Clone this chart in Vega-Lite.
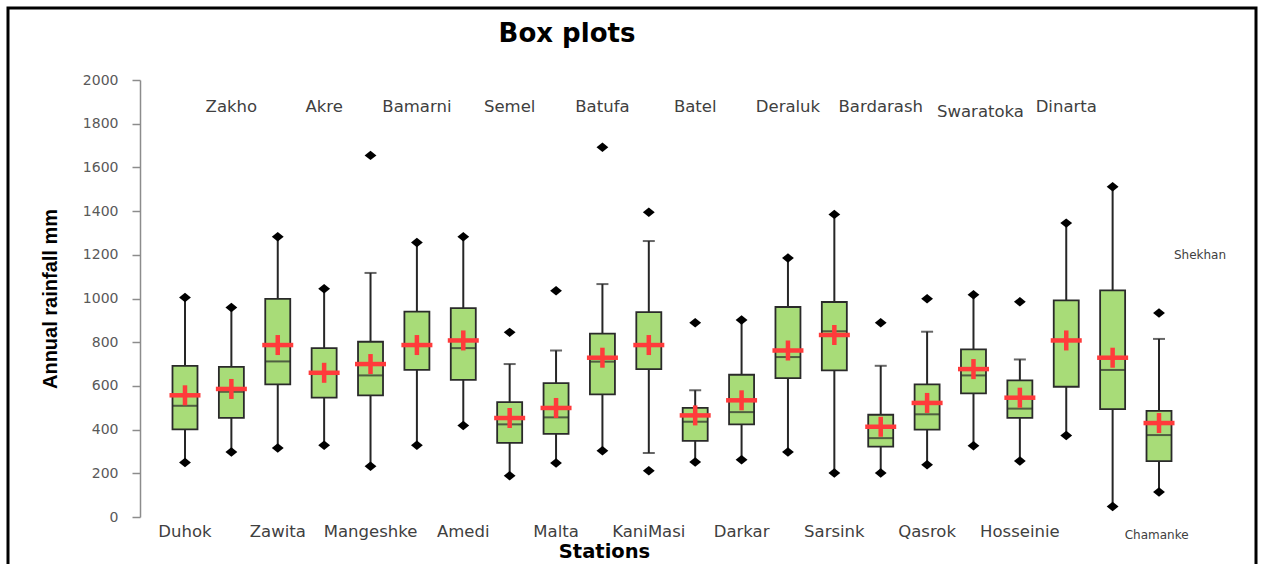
{
  "$schema": "https://vega.github.io/schema/vega-lite/v6.json",
  "width": 1248,
  "height": 560,
  "autosize": {"type": "none"},
  "padding": {"left": 8, "top": 8, "right": 8, "bottom": 0},
  "background": "white",
  "title": {"text": "Box plots", "anchor": "middle", "frame": "group", "offset": -52, "baseline": "middle", "dx": -65, "font": "DejaVu Sans", "fontSize": 26, "fontWeight": "bold", "color": "#000000"},
  "config": {"view": {"stroke": "#000000", "strokeWidth": 3}, "axis": {"grid": false}},
  "data": {"values": [
    {"station": "Duhok", "min": 249, "wlo": 249, "q1": 401, "median": 509, "mean": 557, "q3": 692, "whi": 1005, "max": 1005},
    {"station": "Zakho", "min": 297, "wlo": 297, "q1": 454, "median": 573, "mean": 586, "q3": 687, "whi": 959, "max": 959},
    {"station": "Zawita", "min": 316, "wlo": 316, "q1": 607, "median": 712, "mean": 787, "q3": 998, "whi": 1283, "max": 1283},
    {"station": "Akre", "min": 328, "wlo": 328, "q1": 546, "median": 660, "mean": 660, "q3": 773, "whi": 1045, "max": 1045},
    {"station": "Mangeshke", "min": 232, "wlo": 232, "q1": 557, "median": 648, "mean": 700, "q3": 802, "whi": 1117, "max": 1655},
    {"station": "Bamarni", "min": 328, "wlo": 328, "q1": 673, "median": 787, "mean": 787, "q3": 940, "whi": 1256, "max": 1256},
    {"station": "Amedi", "min": 419, "wlo": 419, "q1": 628, "median": 773, "mean": 808, "q3": 956, "whi": 1283, "max": 1283},
    {"station": "Semel", "min": 189, "wlo": 189, "q1": 339, "median": 424, "mean": 453, "q3": 526, "whi": 700, "max": 845},
    {"station": "Malta", "min": 247, "wlo": 247, "q1": 380, "median": 456, "mean": 499, "q3": 613, "whi": 762, "max": 1035},
    {"station": "Batufa", "min": 303, "wlo": 303, "q1": 561, "median": 711, "mean": 729, "q3": 839, "whi": 1066, "max": 1692},
    {"station": "KaniMasi", "min": 212, "wlo": 293, "q1": 677, "median": 787, "mean": 787, "q3": 938, "whi": 1263, "max": 1395},
    {"station": "Batel", "min": 252, "wlo": 252, "q1": 348, "median": 436, "mean": 465, "q3": 499, "whi": 580, "max": 889},
    {"station": "Darkar", "min": 262, "wlo": 262, "q1": 424, "median": 480, "mean": 534, "q3": 651, "whi": 902, "max": 902},
    {"station": "Deraluk", "min": 297, "wlo": 297, "q1": 636, "median": 732, "mean": 762, "q3": 961, "whi": 1185, "max": 1185},
    {"station": "Sarsink", "min": 201, "wlo": 201, "q1": 671, "median": 850, "mean": 833, "q3": 984, "whi": 1385, "max": 1385},
    {"station": "Bardarash", "min": 201, "wlo": 201, "q1": 322, "median": 361, "mean": 413, "q3": 468, "whi": 692, "max": 889},
    {"station": "Qasrok", "min": 239, "wlo": 239, "q1": 400, "median": 470, "mean": 522, "q3": 607, "whi": 848, "max": 999},
    {"station": "Swaratoka", "min": 326, "wlo": 326, "q1": 566, "median": 648, "mean": 677, "q3": 767, "whi": 1017, "max": 1017},
    {"station": "Hosseinie", "min": 256, "wlo": 256, "q1": 454, "median": 496, "mean": 546, "q3": 625, "whi": 721, "max": 985},
    {"station": "Dinarta", "min": 373, "wlo": 373, "q1": 596, "median": 808, "mean": 808, "q3": 991, "whi": 1345, "max": 1345},
    {"station": "Chamanke", "min": 48, "wlo": 48, "q1": 494, "median": 673, "mean": 729, "q3": 1037, "whi": 1511, "max": 1511},
    {"station": "Shekhan", "min": 114, "wlo": 114, "q1": 256, "median": 375, "mean": 430, "q3": 486, "whi": 815, "max": 934}
  ]},
  "encoding": {
    "x": {
      "field": "station", "type": "nominal",
      "scale": {"domain": ["Duhok","Zakho","Zawita","Akre","Mangeshke","Bamarni","Amedi","Semel","Malta","Batufa","KaniMasi","Batel","Darkar","Deraluk","Sarsink","Bardarash","Qasrok","Swaratoka","Hosseinie","Dinarta","Chamanke","Shekhan"], "range": [153.8, 1174.2], "paddingInner": 0, "paddingOuter": 0},
      "axis": {"domain": false, "ticks": false, "labels": false, "title": "Stations", "titleX": 596, "titleY": -17, "titleBaseline": "middle", "titleFont": "DejaVu Sans", "titleFontSize": 19.5, "titleFontWeight": "bold", "titleColor": "#000000"}
    }
  },
  "layer": [
    {
      "mark": {"type": "rule", "color": "#262626", "strokeWidth": 2},
      "encoding": {
        "y": {"field": "wlo", "type": "quantitative", "title": "Annual rainfall mm",
          "scale": {"domain": [0, 2000], "range": [509, 72], "nice": false, "zero": false},
          "axis": {"values": [0,200,400,600,800,1000,1200,1400,1600,1800,2000], "format": "d", "offset": -132, "domain": true, "domainColor": "#8c8c8c", "domainWidth": 1.5, "tickColor": "#8c8c8c", "tickWidth": 1.5, "tickSize": 8, "labelPadding": 14, "labelFont": "DejaVu Sans", "labelFontSize": 14, "labelColor": "#595959", "titleFont": "Liberation Sans", "titleFontSize": 20, "titleFontWeight": "bold", "titleColor": "#000000", "titleX": -90, "titleBaseline": "middle"}},
        "y2": {"field": "whi"}
      }
    },
    {
      "transform": [{"filter": "datum.whi < datum.max"}],
      "mark": {"type": "tick", "size": 12, "thickness": 2, "color": "#262626"},
      "encoding": {"y": {"field": "whi", "type": "quantitative", "title": "Annual rainfall mm"}}
    },
    {
      "transform": [{"filter": "datum.wlo > datum.min"}],
      "mark": {"type": "tick", "size": 12, "thickness": 2, "color": "#262626"},
      "encoding": {"y": {"field": "wlo", "type": "quantitative", "title": "Annual rainfall mm"}}
    },
    {
      "mark": {"type": "bar", "width": 25, "fill": "#a8dc78", "stroke": "#2a2a2a", "strokeWidth": 1.8},
      "encoding": {"y": {"field": "q1", "type": "quantitative", "title": "Annual rainfall mm"}, "y2": {"field": "q3"}}
    },
    {
      "mark": {"type": "tick", "size": 25, "thickness": 2, "color": "#2a2a2a"},
      "encoding": {"y": {"field": "median", "type": "quantitative", "title": "Annual rainfall mm"}}
    },
    {
      "mark": {"type": "tick", "size": 31, "thickness": 4.5, "color": "#ff3b3b", "opacity": 1},
      "encoding": {"y": {"field": "mean", "type": "quantitative", "title": "Annual rainfall mm"}}
    },
    {
      "mark": {"type": "tick", "orient": "vertical", "size": 20, "thickness": 4.5, "color": "#ff3b3b", "opacity": 1},
      "encoding": {"y": {"field": "mean", "type": "quantitative", "title": "Annual rainfall mm"}}
    },
    {
      "transform": [{"fold": ["min", "max"], "as": ["end", "val"]}],
      "mark": {"type": "point", "shape": "M-1,0L0,-0.8L1,0L0,0.8Z", "filled": true, "color": "#000000", "size": 140, "opacity": 1},
      "encoding": {"y": {"field": "val", "type": "quantitative", "title": "Annual rainfall mm"}}
    },
    {
      "transform": [{"filter": {"field": "station", "oneOf": ["Zakho","Akre","Bamarni","Semel","Batufa","Batel","Deraluk","Bardarash","Dinarta"]}}],
      "mark": {"type": "text", "font": "DejaVu Sans", "fontSize": 16.5, "color": "#404040", "baseline": "middle"},
      "encoding": {"y": {"datum": 1876}, "text": {"field": "station"}}
    },
    {
      "transform": [{"filter": {"field": "station", "equal": "Swaratoka"}}],
      "mark": {"type": "text", "font": "DejaVu Sans", "fontSize": 16.5, "color": "#404040", "baseline": "middle", "dx": 7, "dy": 5},
      "encoding": {"y": {"datum": 1876}, "text": {"field": "station"}}
    },
    {
      "transform": [{"filter": {"field": "station", "oneOf": ["Duhok","Zawita","Mangeshke","Amedi","Malta","KaniMasi","Darkar","Sarsink","Qasrok","Hosseinie"]}}],
      "mark": {"type": "text", "font": "DejaVu Sans", "fontSize": 16.5, "color": "#404040", "baseline": "middle"},
      "encoding": {"y": {"datum": -67}, "text": {"field": "station"}}
    },
    {
      "transform": [{"filter": {"field": "station", "equal": "Shekhan"}}],
      "mark": {"type": "text", "font": "DejaVu Sans", "fontSize": 12, "color": "#404040", "baseline": "middle", "dx": 41},
      "encoding": {"y": {"datum": 1199}, "text": {"field": "station"}}
    },
    {
      "transform": [{"filter": {"field": "station", "equal": "Chamanke"}}],
      "mark": {"type": "text", "font": "DejaVu Sans", "fontSize": 12, "color": "#404040", "baseline": "middle", "dx": 44},
      "encoding": {"y": {"datum": -82}, "text": {"field": "station"}}
    }
  ]
}
